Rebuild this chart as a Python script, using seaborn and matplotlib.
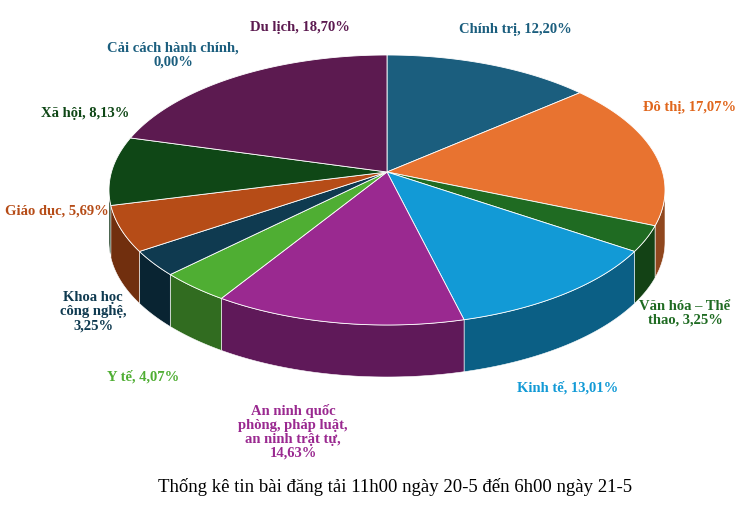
import matplotlib
matplotlib.use("Agg")
import matplotlib.pyplot as plt
import numpy as np
import seaborn as sns
from matplotlib.patches import Polygon

categories = ["Chính trị", "Đô thị", "Văn hóa – Thể\nthao", "Kinh tế",
              "An ninh quốc\nphòng, pháp luật,\nan ninh trật tự,", "Y tế",
              "Khoa học\ncông nghệ,", "Giáo dục", "Xã hội",
              "Cải cách hành chính,", "Du lịch"]
values = [12.20, 17.07, 3.25, 13.01, 14.63, 4.07, 3.25, 5.69, 8.13, 0.00, 18.70]
colors = ["#1B5E7E", "#E87330", "#1F6B22", "#129AD6", "#9A2990", "#4FAE33",
          "#0F3A50", "#B64C17", "#0F4716", "#1B5E7E", "#5C1A50"]
label_colors = ["#1B5E7E", "#E0661C", "#1F6B22", "#129AD6", "#9A2990", "#4FAE33",
                "#0F3A50", "#B64C17", "#0F4716", "#1B5E7E", "#5C1A50"]
label_pos = [(515, 30), (690, 107), (685, 313), (568, 388), (293, 432), (143, 377),
             (93, 312), (57, 211), (85, 113), (173, 55), (300, 27)]
title = "Thống kê tin bài đăng tải 11h00 ngày 20-5 đến 6h00 ngày 21-5"

sns.set_theme(style="white")
plt.rcParams["font.family"] = ["Liberation Serif", "DejaVu Serif"]

fig = plt.figure(figsize=(7.39, 5.08), dpi=100)
ax = fig.add_axes([0, 0, 1, 1])
ax.set_xlim(0, 739)
ax.set_ylim(508, 0)
ax.axis("off")

cx, cy, rx, ry, depth = 387, 190, 278, 135, 52
apex = (387, 172)


def rim(a):
    r = np.radians(a)
    return cx + rx * np.sin(r), cy - ry * np.cos(r)


edges = np.concatenate([[0], np.cumsum(values)]) / 100 * 360
# side faces (front half only)
for i, c in enumerate(colors):
    a0, a1 = max(edges[i], 90), min(edges[i + 1], 270)
    if a1 <= a0:
        continue
    t = np.linspace(a0, a1, 60)
    x, y = rim(t)
    pts = np.column_stack([np.r_[x, x[::-1]], np.r_[y, y[::-1] + depth]])
    dark = tuple(np.array(matplotlib.colors.to_rgb(c)) * 0.62)
    ax.add_patch(Polygon(pts, closed=True, fc=dark, ec="white", lw=0.4))
# top faces
for i, c in enumerate(colors):
    if values[i] <= 0:
        continue
    t = np.linspace(edges[i], edges[i + 1], 100)
    x, y = rim(t)
    pts = np.column_stack([np.r_[apex[0], x], np.r_[apex[1], y]])
    ax.add_patch(Polygon(pts, closed=True, fc=c, ec="white", lw=0.6))

for name, v, col, (px, py) in zip(categories, values, label_colors, label_pos):
    sep = "\n" if name.endswith(",") else ", "
    text = f"{name}{sep}{v:.2f}%".replace(".", ",")
    ax.text(px, py, text, color=col, fontsize=10.5, fontweight="bold",
            ha="center", va="center", linespacing=1.1)

ax.text(395, 487, title, ha="center", va="center", fontsize=13.5, color="black")
fig.savefig("out.png", dpi=100)
